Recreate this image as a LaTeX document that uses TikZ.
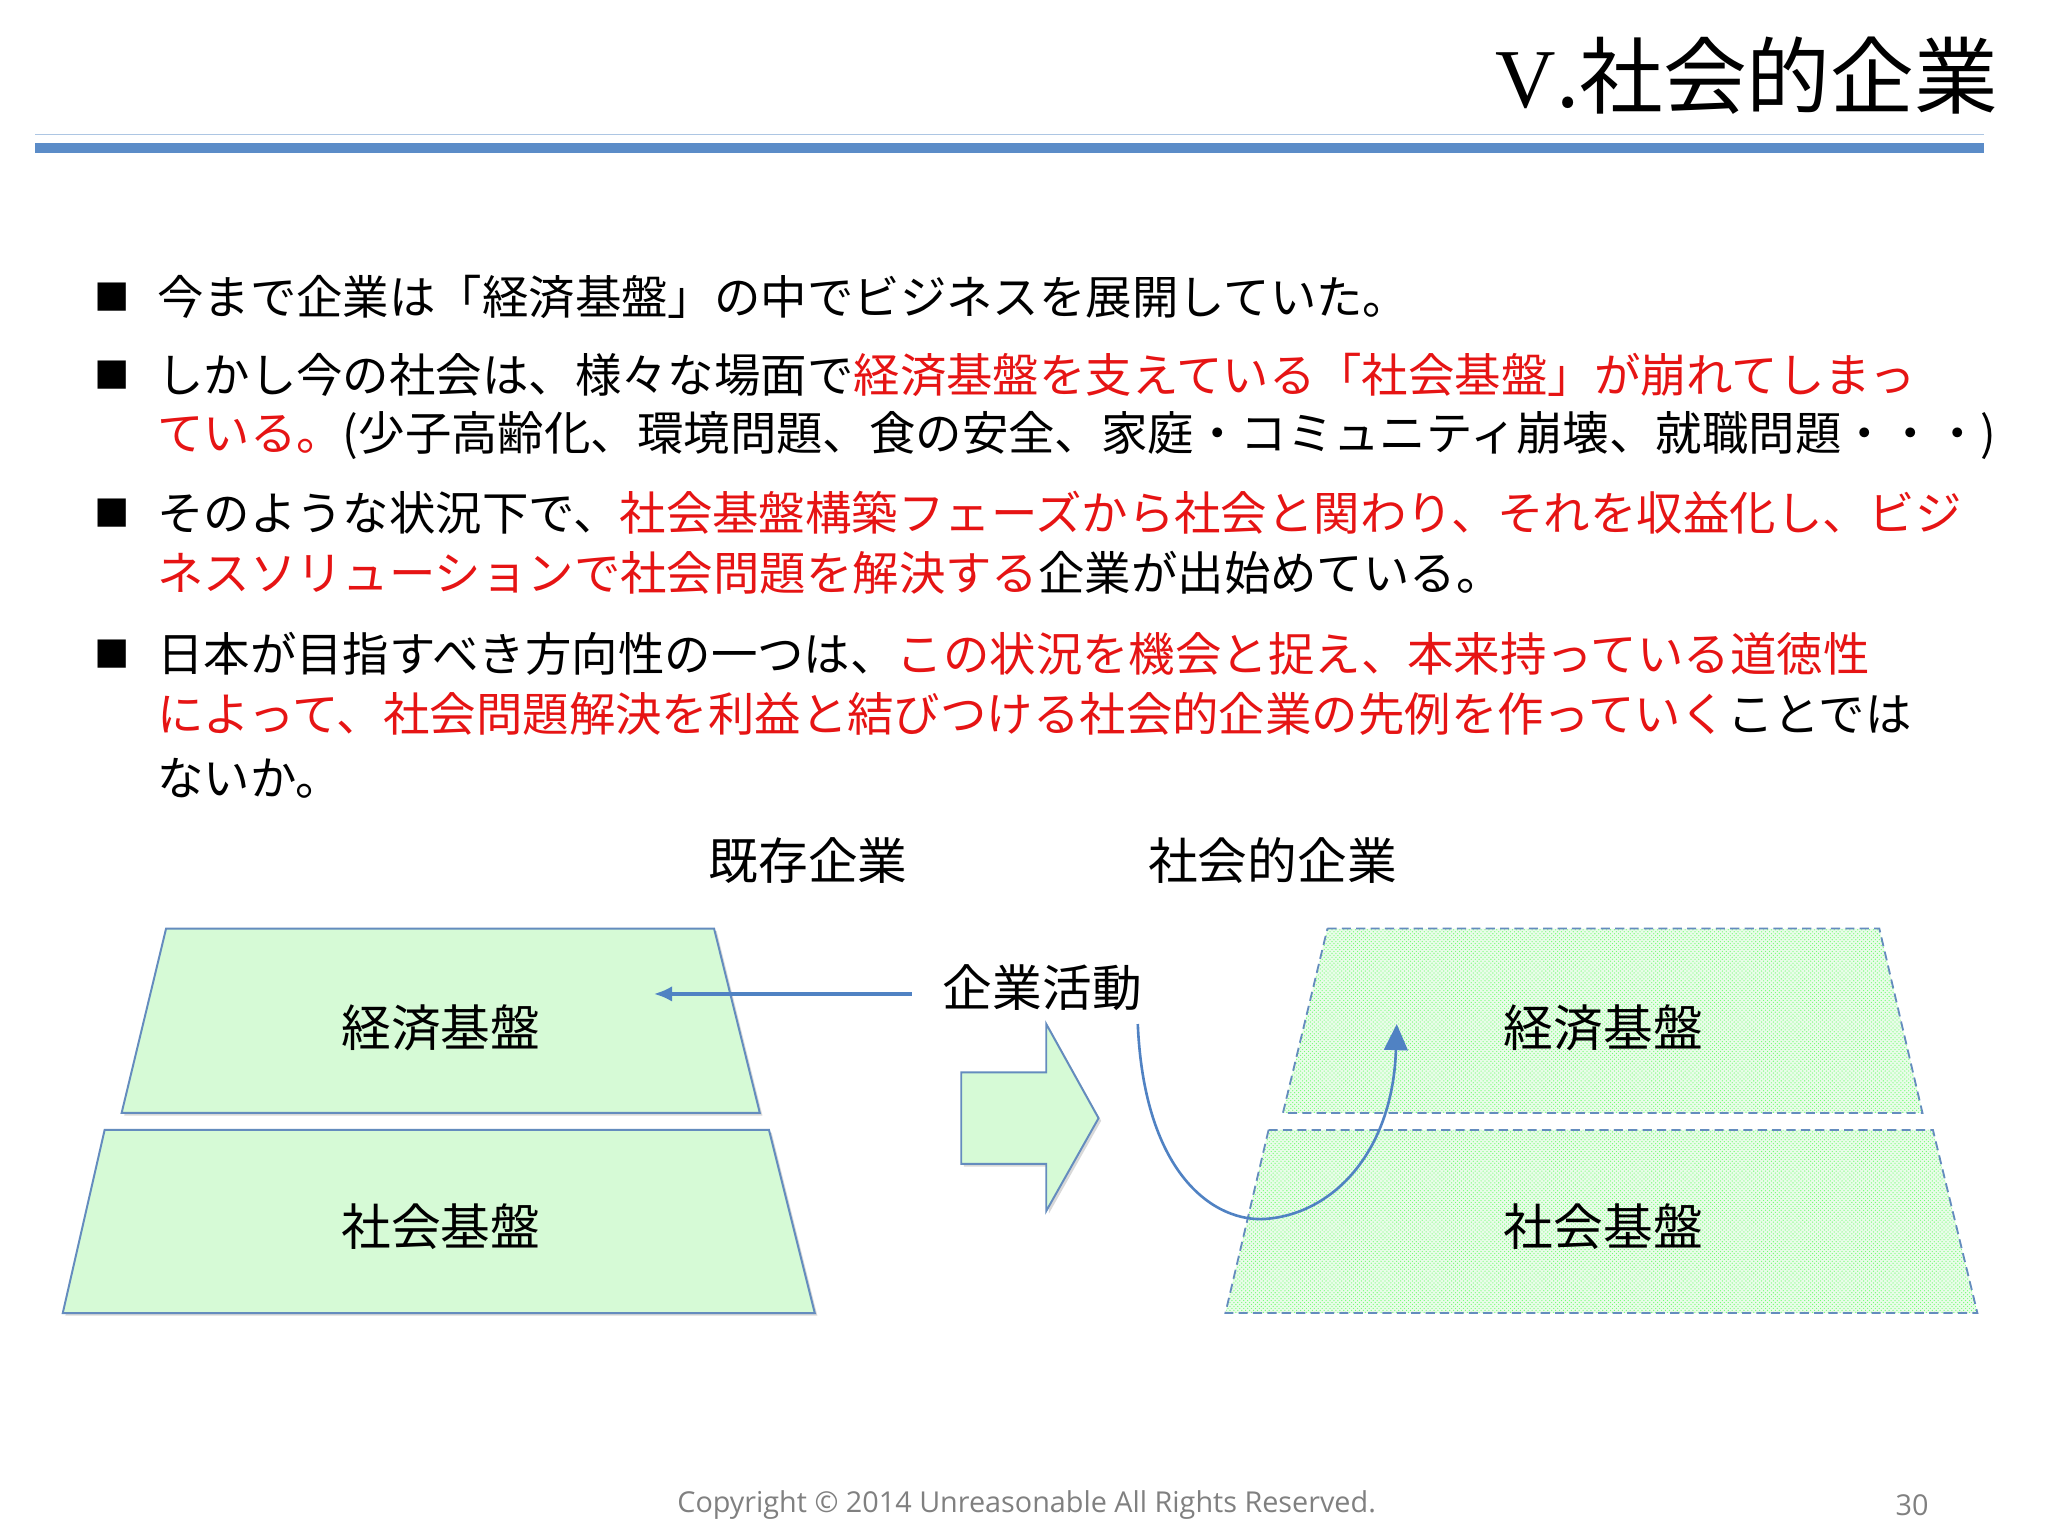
\documentclass[tikz,border=0pt]{standalone}
\usepackage{fontspec}
\setmainfont{Noto Sans CJK JP}
\newfontfamily\latinf{Liberation Serif}
\newfontfamily\copyf{Open Sans}
\usetikzlibrary{patterns,arrows.meta,shadows}
\definecolor{myred}{RGB}{230,20,20}
\definecolor{bar}{RGB}{91,140,200}
\definecolor{gfill}{RGB}{214,250,214}
\definecolor{gedge}{RGB}{100,140,190}
\definecolor{arr}{RGB}{80,130,195}
\begin{document}
\begin{tikzpicture}[x=1pt,y=-1pt,
 body/.style={anchor=west,inner sep=0,font=\fontsize{35.5}{40}\selectfont},
 bul/.style={anchor=center,inner sep=0,font=\fontsize{27}{30}\selectfont},
 lab/.style={inner sep=0,font=\fontsize{38}{44}\selectfont},
 solidtrap/.style={fill=gfill,draw=gedge,line width=1.5pt,drop shadow={shadow xshift=2pt,shadow yshift=-2pt,opacity=0.3}},
 dashtrap/.style={pattern color=green!45!gfill,draw=gedge,dash pattern=on 7pt off 4pt,line width=1.4pt}]
\useasboundingbox (0,0) rectangle (1566,1174.5);
\fill[white] (0,0) rectangle (1566,1174.5);
\node[anchor=east,inner sep=0,font=\fontsize{64}{70}\selectfont] (title) at (1528,58) {{\latinf V}.社会的企業};
\draw[bar!50,line width=1pt] (27,103) -- (1517,103);
\fill[bar] (27,109) rectangle (1517,117);
\foreach \y in {227,287,392,500} {\node[bul] at (86,\y) {■};}
\node[body] (l1) at (120,227) {今まで企業は「経済基盤」の中でビジネスを展開していた。};
\node[body] (l2) at (120,287) {しかし今の社会は、様々な場面で\textcolor{myred}{経済基盤を支えている「社会基盤」が崩れてしまっ}};
\node[body] (l3) at (120,333) {\textcolor{myred}{ている。}(少子高齢化、環境問題、食の安全、家庭・コミュニティ崩壊、就職問題・・・)};
\node[body] (l4) at (120,392) {そのような状況下で、\textcolor{myred}{社会基盤構築フェーズから社会と関わり、それを収益化し、ビジ}};
\node[body] (l5) at (120,438) {\textcolor{myred}{ネスソリューションで社会問題を解決する}企業が出始めている。};
\node[body] (l6) at (120,500) {日本が目指すべき方向性の一つは、\textcolor{myred}{この状況を機会と捉え、本来持っている道徳性}};
\node[body] (l7) at (120,546) {\textcolor{myred}{によって、社会問題解決を利益と結びつける社会的企業の先例を作っていく}ことでは};
\node[body] (l8) at (120,595) {ないか。};
\node[lab] (h1) at (618,658) {既存企業};
\node[lab] (h2) at (973,658) {社会的企業};
\draw[solidtrap] (127,710) -- (546,710) -- (581,851) -- (93,851) -- cycle;
\draw[solidtrap] (80,864) -- (588,864) -- (623,1004) -- (48,1004) -- cycle;
\node[lab] (e1) at (337,786) {経済基盤};
\node[lab] (s1) at (337,938) {社会基盤};
\fill[gfill!55] (970,864) -- (1478,864) -- (1512,1004) -- (937,1004) -- cycle;
\fill[gfill!55] (1015,710) -- (1437,710) -- (1470,851) -- (981,851) -- cycle;
\draw[dashtrap,pattern=crosshatch dots] (1015,710) -- (1437,710) -- (1470,851) -- (981,851) -- cycle;
\draw[dashtrap,pattern=crosshatch dots] (970,864) -- (1478,864) -- (1512,1004) -- (937,1004) -- cycle;
\node[lab] (e2) at (1226,786) {経済基盤};
\node[lab] (s2) at (1226,938) {社会基盤};
\node[lab] (act) at (797,755) {企業活動};
\coordinate (a0) at (697,760);
\coordinate (a1) at (500,760);
\draw[arr,line width=2.5pt,-{Latex[length=14pt,width=12pt]}] (a0) -- (a1);
\draw[solidtrap] (735,820) -- (800,820) -- (800,783) -- (840,855) -- (800,926) -- (800,890) -- (735,890) -- cycle;
\coordinate (c0) at (870,783);
\coordinate (c1) at (1068,783);
\draw[arr,line width=2pt,-{Triangle[length=20pt,width=18pt]}] (c0) .. controls (875,900) and (930,935) .. (968,932) .. controls (1020,928) and (1065,880) .. (c1);
\node[inner sep=0,text=gray,font=\copyf\fontsize{22}{24}\selectfont] (cp) at (785,1151) {Copyright © 2014 Unreasonable All Rights Reserved.};
\node[inner sep=0,text=gray,font=\copyf\fontsize{22}{24}\selectfont] (pg) at (1462,1151) {30};
\end{tikzpicture}
\end{document}
